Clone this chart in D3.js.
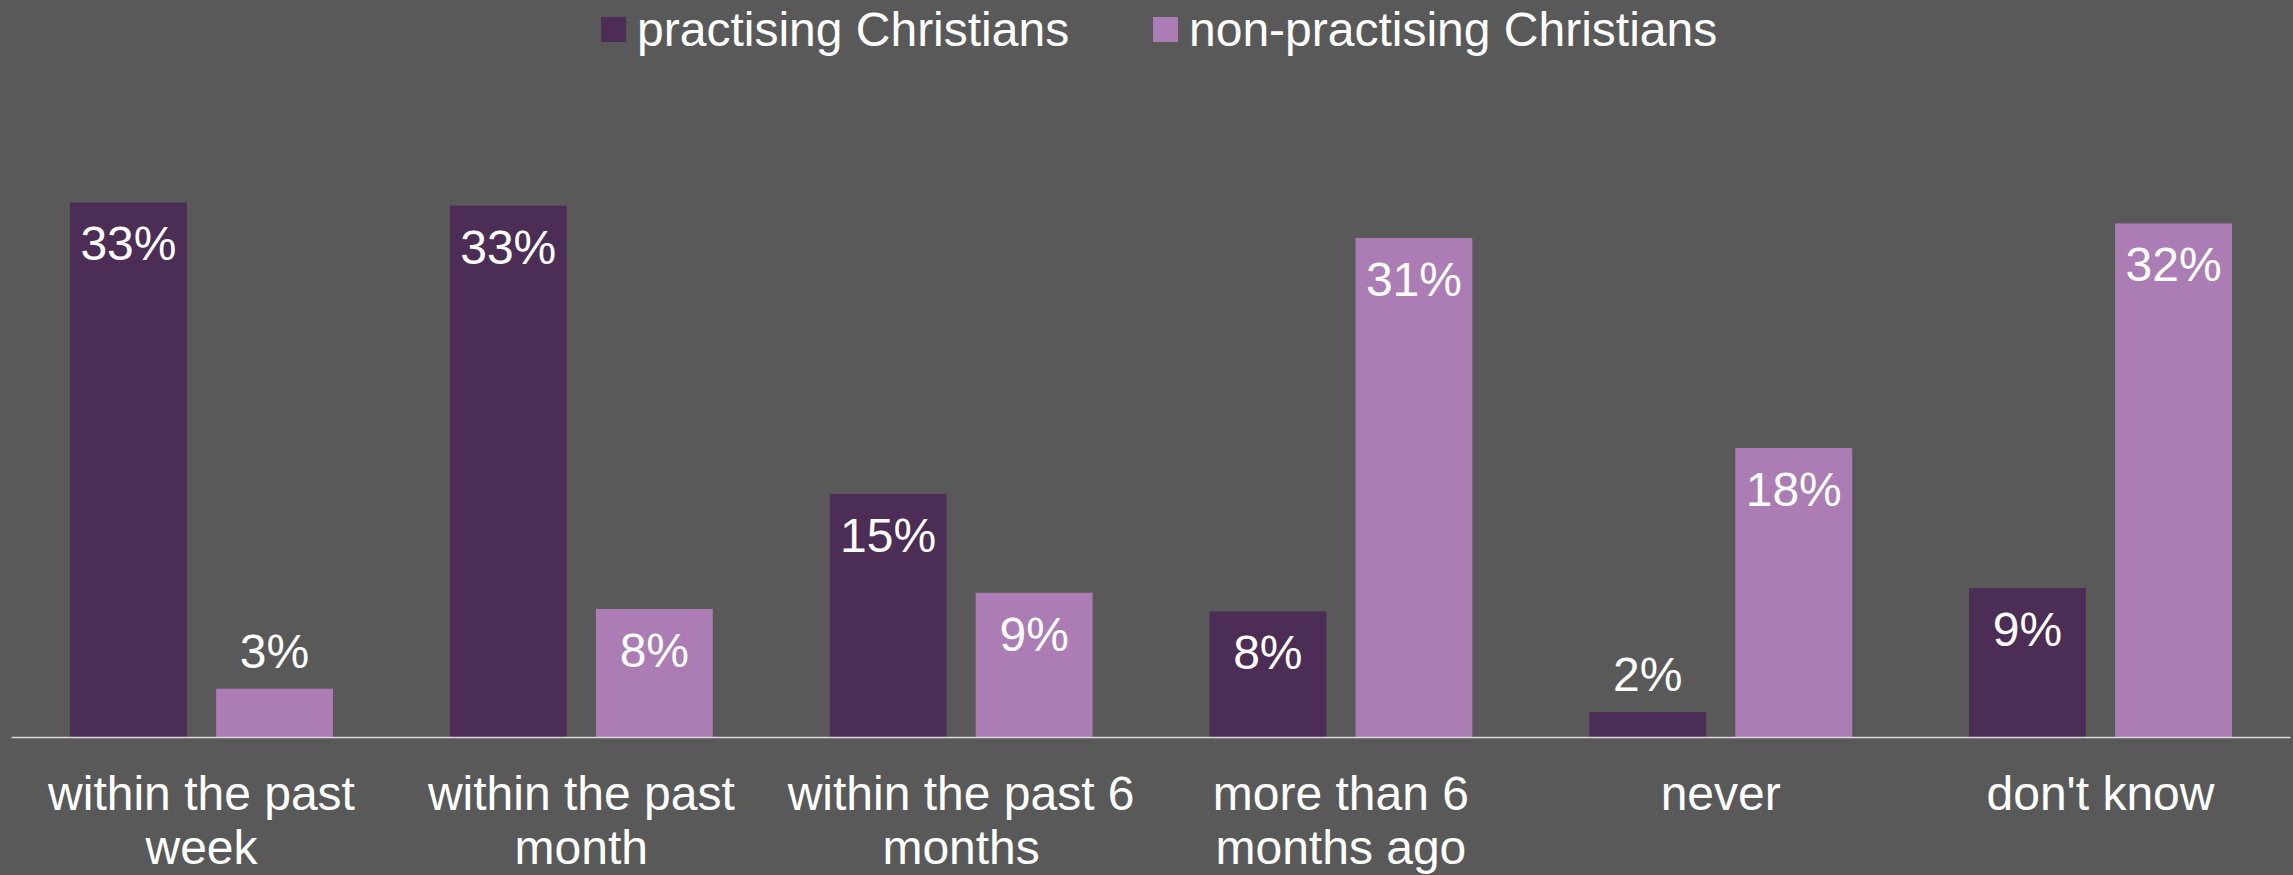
<!DOCTYPE html>
<html>
<head>
<meta charset="utf-8">
<script src="https://cdn.jsdelivr.net/npm/d3@7"></script>
<style>
  html, body { margin: 0; padding: 0; background: #595959; }
  svg { display: block; }
</style>
</head>
<body>
<svg id="chart" width="2293" height="875"></svg>
<script>
// ---- data ----
const categories = [
  ["within the past", "week"],
  ["within the past", "month"],
  ["within the past 6", "months"],
  ["more than 6", "months ago"],
  ["never"],
  ["don't know"]
];
const seriesNames = ["practising Christians", "non-practising Christians"];
const practising = [33.2, 33.0, 15.1, 7.8, 1.55, 9.25];
const nonPractising = [3.0, 7.95, 8.96, 31.0, 17.95, 31.9];
const valueLabels = [
  ["33%", "33%", "15%", "8%", "2%", "9%"],
  ["3%", "8%", "9%", "31%", "18%", "32%"]
];
const colors = ["#4b2d55", "#ac7db5"];

// ---- layout ----
const W = 2293, H = 875;
const baseY = 737;
const FONT = "'Liberation Sans', Arial, sans-serif";
const svg = d3.select("#chart");
svg.append("rect").attr("width", W).attr("height", H).attr("fill", "#595959");

const catIdx = d3.range(categories.length);
const x0 = d3.scaleBand().domain(catIdx).range([11.6, 2290.4]).paddingInner(0).paddingOuter(0);
const x1 = d3.scaleBand().domain([0, 1]).range([0, x0.bandwidth()]).paddingInner(0.2).paddingOuter(0.4);
const y = d3.scaleLinear().domain([0, 35]).range([baseY, baseY - 35 * 16.1]);

const seriesVals = [practising, nonPractising];

const g = svg.append("g");
seriesVals.forEach((vals, s) => {
  g.selectAll(null).data(vals).enter().append("rect")
    .attr("x", (d, i) => x0(i) + x1(s))
    .attr("y", d => y(d))
    .attr("width", x1.bandwidth())
    .attr("height", d => baseY - y(d))
    .attr("fill", colors[s]);
});

// axis line
svg.append("line")
  .attr("x1", x0.range()[0]).attr("x2", x0.range()[1])
  .attr("y1", baseY + 0.5).attr("y2", baseY + 0.5)
  .attr("stroke", "#d9d9d9").attr("stroke-width", 1.6);

// value labels
seriesVals.forEach((vals, s) => {
  g.selectAll(null).data(vals).enter().append("text")
    .attr("x", (d, i) => x0(i) + x1(s) + x1.bandwidth() / 2)
    .attr("y", d => (baseY - y(d)) > 80 ? y(d) + 58 : y(d) - 21)
    .attr("text-anchor", "middle")
    .attr("font-family", FONT)
    .attr("font-size", 48)
    .attr("fill", "#ffffff")
    .text((d, i) => valueLabels[s][i]);
});

// category labels
const xAxis = svg.append("g");
categories.forEach((lines, i) => {
  const t = xAxis.append("text")
    .attr("x", x0(i) + x0.bandwidth() / 2)
    .attr("y", 810)
    .attr("text-anchor", "middle")
    .attr("font-family", FONT)
    .attr("font-size", 48)
    .attr("fill", "#ffffff");
  lines.forEach((ln, k) => {
    t.append("tspan")
      .attr("x", x0(i) + x0.bandwidth() / 2)
      .attr("y", 810 + k * 54)
      .text(ln);
  });
});

// legend
const legend = svg.append("g");
const legendX = [601, 1153];
seriesNames.forEach((name, s) => {
  legend.append("rect")
    .attr("x", legendX[s]).attr("y", 17)
    .attr("width", 25).attr("height", 25)
    .attr("fill", colors[s]);
  legend.append("text")
    .attr("x", legendX[s] + 36).attr("y", 46)
    .attr("font-family", FONT)
    .attr("font-size", 48)
    .attr("fill", "#ffffff")
    .text(name);
});
</script>
</body>
</html>
